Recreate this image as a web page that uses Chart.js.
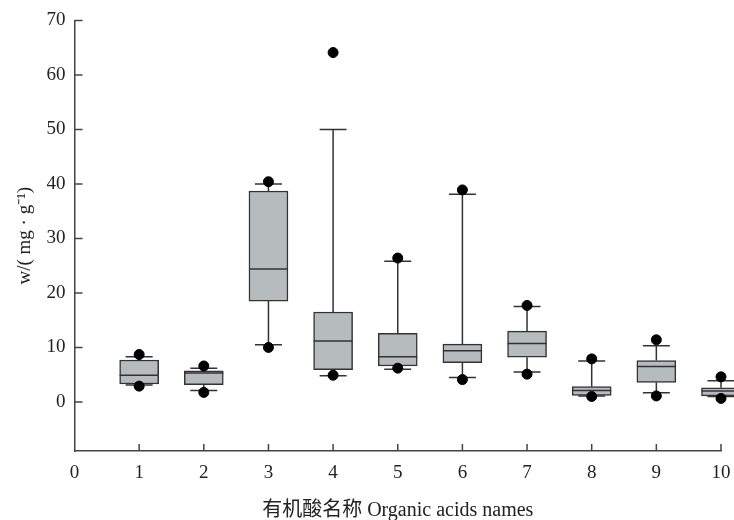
<!DOCTYPE html>
<html>
<head>
<meta charset="utf-8">
<script src="https://cdn.jsdelivr.net/npm/chart.js@4"></script>
<style>
html,body{margin:0;padding:0;overflow:hidden;background:#fff;}
#wrap{width:734px;height:520px;overflow:hidden;}
</style>
</head>
<body>
<div id="wrap"><canvas id="boxChart" width="780" height="520"></canvas></div>
<script>

// ================================
// DATA
// ================================

const acids = [1, 2, 3, 4, 5, 6, 7, 8, 9, 10];

const whiskerLow  = [3.1, 2.1, 10.5, 4.8, 6.0, 4.5, 5.5, 1.1, 1.7, 1.0];
const q1          = [3.3, 3.15, 18.5, 5.9, 6.6, 7.2, 8.2, 1.2, 3.6, 1.1];
const median      = [4.9, 5.3, 24.4, 11.2, 8.3, 9.4, 10.7, 2.1, 6.5, 2.0];
const q3          = [7.7, 5.7, 38.7, 16.5, 12.6, 10.6, 13.0, 2.8, 7.6, 2.6];
const whiskerHigh = [8.3, 6.2, 40.0, 50.0, 25.8, 38.1, 17.5, 7.5, 10.3, 3.9];

const dotsHigh = [8.7, 6.6, 40.4, 64.1, 26.4, 38.9, 17.7, 7.9, 11.4, 4.6];
const dotsLow  = [2.9, 1.75, 10.0, 4.9, 6.2, 4.1, 5.1, 1.0, 1.1, 0.65];

const xTicks = [0, 1, 2, 3, 4, 5, 6, 7, 8, 9, 10];
const yTicks = [0, 10, 20, 30, 40, 50, 60, 70];


// ================================
// BOX PARTS (whiskers, caps, medians)
// ================================

const boxParts = {
  id: 'boxParts',
  beforeDatasetsDraw(chart){
    const ctx = chart.ctx;
    const x = chart.scales.x, y = chart.scales.y;
    ctx.save();
    ctx.strokeStyle = '#333';
    ctx.lineWidth = 1.5;
    acids.forEach(function(a, i){
      const px = x.getPixelForValue(a);
      ctx.beginPath();
      ctx.moveTo(px, y.getPixelForValue(q3[i]));
      ctx.lineTo(px, y.getPixelForValue(whiskerHigh[i]));
      ctx.moveTo(px, y.getPixelForValue(q1[i]));
      ctx.lineTo(px, y.getPixelForValue(whiskerLow[i]));
      ctx.moveTo(px - 13.5, y.getPixelForValue(whiskerHigh[i]));
      ctx.lineTo(px + 13.5, y.getPixelForValue(whiskerHigh[i]));
      ctx.moveTo(px - 13.5, y.getPixelForValue(whiskerLow[i]));
      ctx.lineTo(px + 13.5, y.getPixelForValue(whiskerLow[i]));
      ctx.stroke();
    });
    ctx.restore();
  },
  afterDatasetsDraw(chart){
    const ctx = chart.ctx;
    const x = chart.scales.x, y = chart.scales.y;
    ctx.save();
    ctx.strokeStyle = '#333';
    ctx.lineWidth = 1.5;
    acids.forEach(function(a, i){
      const px = x.getPixelForValue(a);
      const py = y.getPixelForValue(median[i]);
      ctx.beginPath();
      ctx.moveTo(px - 19.5, py);
      ctx.lineTo(px + 19.5, py);
      ctx.stroke();
    });
    ctx.restore();
  },
  afterDraw(chart){
    // inward tick marks
    const ctx = chart.ctx;
    const x = chart.scales.x, y = chart.scales.y;
    const area = chart.chartArea;
    ctx.save();
    ctx.strokeStyle = '#444';
    ctx.lineWidth = 1.5;
    ctx.beginPath();
    yTicks.forEach(function(v){
      const py = y.getPixelForValue(v);
      ctx.moveTo(area.left, py);
      ctx.lineTo(area.left + 8, py);
    });
    xTicks.forEach(function(v){
      if(v === 0) return;
      const px = x.getPixelForValue(v);
      ctx.moveTo(px, area.bottom);
      ctx.lineTo(px, area.bottom - 7);
    });
    ctx.stroke();
    ctx.restore();
  }
};


// ================================
// CHART
// ================================

const el = document.getElementById('boxChart');

new Chart(el, {
  type: 'bar',
  data: {
    datasets: [{
      type: 'bar',
      label: 'IQR',
      data: acids.map((a, i) => ({x: a, y: [q1[i], q3[i]]})),
      backgroundColor: '#b6bbbe',
      borderColor: '#333',
      borderWidth: 1.5,
      borderSkipped: false,
      barThickness: 39,
      clip: false,
      order: 2
    }, {
      type: 'scatter',
      label: 'points',
      data: acids.map((a, i) => ({x: a, y: dotsHigh[i]}))
        .concat(acids.map((a, i) => ({x: a, y: dotsLow[i]}))),
      backgroundColor: '#000',
      borderColor: '#000',
      pointRadius: 5,
      clip: false,
      order: 1
    }]
  },
  options: {
    responsive: false,
    animation: false,
    layout: {padding: {top: 16, right: 59, left: 0, bottom: 0}},
    plugins: {legend: {display: false}, tooltip: {enabled: false}},
    scales: {
      x: {
        type: 'linear',
        min: 0,
        max: 10,
        offset: false,
        grid: {display: false, offset: false, drawTicks: false},
        border: {display: true, color: '#444', width: 1.5},
        afterBuildTicks: s => { s.ticks = xTicks.map(v => ({value: v})); },
        afterFit: s => { s.height = 69; },
        ticks: {
          padding: 11,
          color: '#222',
          font: {family: 'Liberation Serif', size: 19},
          maxRotation: 0
        },
        title: {
          display: true,
          text: '有机酸名称 Organic acids names',
          color: '#222',
          font: {family: '"Liberation Serif", "Noto Sans CJK SC"', size: 20},
          padding: {top: 0, bottom: -3}
        }
      },
      y: {
        min: -9,
        max: 70,
        grid: {display: false, drawTicks: false},
        border: {display: true, color: '#444', width: 1.5},
        afterBuildTicks: s => { s.ticks = yTicks.map(v => ({value: v})); },
        afterFit: s => { s.width = 74.5; },
        ticks: {
          padding: 9,
          color: '#222',
          font: {family: 'Liberation Serif', size: 19}
        },
        title: {
          display: true,
          text: 'w/( mg · g⁻¹)',
          color: '#222',
          font: {family: 'Liberation Serif', size: 19},
          padding: {top: 14, bottom: 0}
        }
      }
    }
  },
  plugins: [boxParts]
});

</script>
</body>
</html>
